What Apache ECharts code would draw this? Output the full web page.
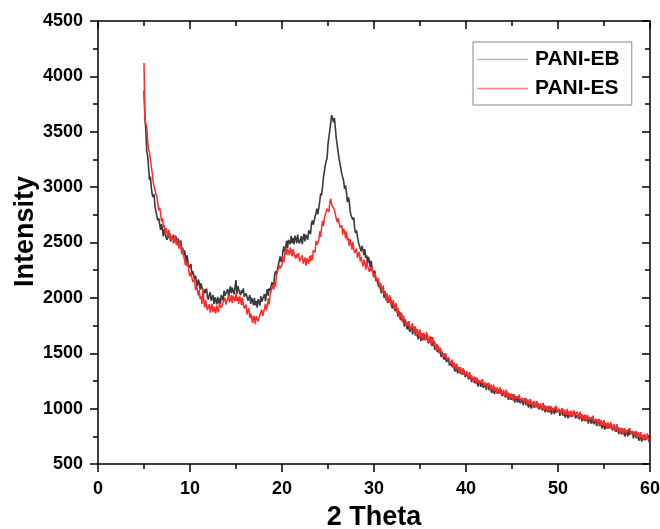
<!DOCTYPE html>
<html>
<head>
<meta charset="utf-8">
<script src="https://cdn.jsdelivr.net/npm/echarts@6/dist/echarts.min.js"></script>
<style>
html,body{margin:0;padding:0;background:#fff;}
#chart{width:660px;height:529px;}
</style>
</head>
<body>
<div id="chart"></div>
<script>
// 2θ sampling of both scans (degrees)
const thetaStart = 5.0;
const thetaStep = 0.1;

const seriesNames = ['PANI-EB', 'PANI-ES'];

// PANI-EB intensity, 5.0° … 60.0° every 0.1°
const paniEB = [
3870,3625,3515,3325,3280,3175,3065,3095,2990,2930,
2910,2935,2820,2830,2835,2700,2720,2665,2615,2665,
2620,2555,2620,2620,2550,2525,2565,2540,2585,2510,
2495,2550,2570,2500,2515,2555,2475,2535,2505,2460,
2520,2435,2455,2375,2430,2385,2325,2385,2310,2270,
2270,2305,2210,2240,2255,2170,2200,2145,2105,2165,
2140,2075,2130,2130,2060,2035,2075,2045,2085,2005,
1985,2030,2050,1975,1990,2025,1945,2005,1980,1940,
2010,1950,1995,1945,2025,2005,1975,2065,2020,2005,
2020,2080,2010,2065,2105,2040,2092,2060,2033,2105,
2160,2033,2105,2110,2045,2025,2070,2045,2085,2010,
1995,2040,2055,1975,1990,2025,1945,2000,1975,1935,
2000,1933,1971,1911,1988,1965,1930,2015,1965,1955,
1970,2035,1970,2030,2080,2020,2085,2065,2055,2140,
2140,2105,2210,2240,2210,2215,2295,2295,2375,2325,
2345,2420,2465,2415,2455,2515,2450,2525,2515,2485,
2560,2497,2540,2482,2560,2535,2493,2571,2514,2492,
2500,2557,2485,2540,2580,2510,2570,2545,2525,2610,
2610,2575,2670,2700,2660,2665,2735,2735,2805,2755,
2765,2870,2945,2925,2995,3085,3070,3195,3235,3260,
3390,3405,3515,3525,3650,3655,3585,3625,3530,3440,
3380,3385,3260,3260,3245,3120,3130,3055,2985,3015,
2960,2865,2910,2880,2790,2745,2755,2705,2725,2625,
2585,2610,2605,2505,2495,2515,2420,2470,2435,2385,
2440,2360,2385,2310,2370,2335,2275,2335,2260,2220,
2210,2245,2150,2180,2195,2100,2135,2085,2040,2095,
2070,2000,2060,2055,1980,1955,1995,1965,2005,1925,
1905,1950,1965,1880,1885,1915,1830,1880,1845,1800,
1860,1785,1810,1740,1805,1765,1715,1785,1720,1695,
1700,1750,1670,1710,1740,1660,1705,1665,1625,1690,
1670,1610,1680,1685,1620,1605,1650,1625,1670,1590,
1575,1625,1645,1565,1580,1615,1530,1585,1555,1510,
1562,1500,1522,1464,1514,1484,1442,1496,1442,1421,
1424,1458,1388,1418,1436,1376,1406,1368,1334,1385,
1368,1319,1374,1372,1319,1302,1332,1311,1346,1285,
1272,1311,1326,1265,1276,1303,1238,1285,1264,1231,
1282,1225,1252,1199,1254,1232,1197,1256,1207,1188,
1194,1233,1168,1204,1228,1166,1201,1168,1140,1192,
1178,1130,1186,1190,1138,1122,1158,1138,1174,1114,
1102,1143,1160,1101,1114,1143,1080,1129,1110,1079,
1132,1077,1106,1055,1112,1089,1054,1115,1068,1049,
1054,1095,1032,1069,1094,1031,1068,1037,1010,1063,
1048,1001,1058,1063,1012,997,1034,1015,1052,993,
982,1024,1042,984,998,1028,966,1016,998,968,
1022,968,998,948,1006,984,950,1012,966,948,
954,996,934,972,998,936,974,944,918,972,
958,912,970,976,926,912,950,932,970,912,
902,944,962,904,918,948,886,936,918,888,
942,887,916,865,922,899,864,925,878,859,
864,905,842,879,904,841,878,847,820,873,
858,811,868,873,822,807,844,825,862,803,
792,833,850,791,804,833,770,819,800,769,
822,768,798,748,806,784,750,812,766,748,
754,795,732,769,794,731,768,737,710,763,
748,702,760,766,716,702,740,722,760,702,
690
];

// PANI-ES intensity, 5.0° … 60.0° every 0.1°
const paniES = [
4120,3605,3610,3540,3420,3335,3315,3245,3245,3125,
3045,3060,3045,2935,2915,2905,2790,2815,2765,2690,
2720,2635,2655,2575,2630,2595,2545,2615,2550,2520,
2520,2570,2490,2535,2565,2480,2525,2485,2445,2505,
2470,2395,2440,2430,2340,2295,2325,2285,2315,2225,
2195,2230,2235,2145,2145,2165,2070,2115,2075,2020,
2070,1990,2015,1945,2085,1965,1915,1985,1920,1890,
1890,1943,1866,1914,1947,1870,1920,1887,1859,1931,
1920,1870,1950,1965,1910,1905,1960,1945,2000,1940,
1935,1995,2025,1960,1980,2025,1952,2020,2003,1970,
2040,1973,2010,1945,2015,1985,1935,2005,1940,1905,
1900,1940,1850,1885,1905,1820,1860,1815,1775,1840,
1820,1763,1836,1846,1788,1785,1845,1835,1895,1835,
1835,1905,1945,1890,1925,1995,1940,2025,2035,2025,
2120,2075,2140,2105,2205,2205,2190,2295,2265,2270,
2300,2375,2320,2390,2445,2390,2445,2415,2385,2455,
2440,2375,2440,2440,2375,2355,2395,2365,2405,2330,
2315,2365,2385,2310,2325,2365,2290,2357,2340,2308,
2380,2330,2385,2340,2430,2425,2410,2515,2480,2485,
2520,2600,2550,2630,2695,2650,2720,2715,2715,2805,
2810,2775,2870,2895,2840,2825,2855,2795,2805,2715,
2685,2720,2725,2635,2635,2655,2570,2625,2595,2540,
2600,2520,2545,2470,2530,2485,2435,2505,2440,2405,
2400,2445,2360,2395,2415,2330,2370,2325,2285,2345,
2320,2255,2320,2325,2260,2235,2275,2245,2285,2205,
2185,2225,2235,2150,2155,2175,2085,2135,2100,2050,
2110,2030,2055,1980,2040,2005,1955,2025,1960,1930,
1935,1980,1895,1930,1950,1865,1905,1855,1810,1870,
1845,1780,1840,1840,1770,1740,1780,1750,1790,1715,
1700,1750,1770,1690,1705,1740,1660,1720,1690,1650,
1715,1645,1680,1615,1685,1660,1615,1690,1630,1600,
1605,1655,1575,1615,1645,1565,1605,1560,1520,1580,
1553,1499,1549,1547,1489,1467,1497,1471,1501,1440,
1427,1461,1471,1405,1411,1443,1373,1415,1389,1356,
1407,1350,1377,1319,1374,1349,1307,1366,1317,1296,
1299,1338,1273,1308,1331,1266,1301,1268,1239,1290,
1273,1224,1279,1282,1229,1215,1252,1231,1266,1207,
1197,1236,1251,1191,1203,1233,1168,1215,1195,1163,
1217,1161,1189,1137,1193,1169,1133,1193,1145,1125,
1129,1170,1107,1144,1169,1106,1143,1112,1085,1138,
1123,1076,1133,1138,1087,1072,1109,1090,1127,1068,
1057,1098,1115,1056,1069,1098,1035,1084,1065,1034,
1087,1032,1061,1010,1067,1044,1009,1070,1023,1004,
1009,1051,989,1027,1053,991,1029,999,973,1027,
1013,967,1025,1031,981,967,1005,987,1025,967,
957,999,1017,959,973,1003,941,991,973,943,
997,943,973,923,981,959,925,987,941,923,
929,971,909,947,973,911,949,919,893,947,
933,886,943,948,897,882,919,900,937,878,
867,908,925,866,879,908,845,894,875,844,
897,842,871,820,877,854,819,880,833,814,
819,860,797,834,859,796,833,802,775,828,
813,767,825,831,781,767,805,787,825,767,
757,798,815,756,769,798,735,784,765,734,
787,733,763,713,771,749,715,777,731,713,
730
];

const xTicks = {min: 0, max: 60, interval: 10};
const yTicks = {min: 500, max: 4500, interval: 500};

function toPairs(vals) {
  return vals.map((v, i) => [+(thetaStart + i * thetaStep).toFixed(2), v]);
}

const FONT = 'Liberation Sans, Arial, sans-serif';
const axisLineStyle = {color: '#000', width: 1.5};
const tickStyle = {color: '#000', width: 1.5};

function makeX(pos, showLabel, inside) {
  return {
    type: 'value', position: pos,
    min: xTicks.min, max: xTicks.max, interval: xTicks.interval,
    name: showLabel ? '2 Theta' : '',
    nameLocation: 'middle', nameGap: 40, nameMoveOverlap: false,
    nameTextStyle: {fontFamily: FONT, fontWeight: 'bold', fontSize: 27, color: '#000'},
    axisLine: {show: true, onZero: false, lineStyle: axisLineStyle},
    axisTick: {show: true, inside: inside, length: 8, lineStyle: tickStyle},
    minorTick: {show: true, splitNumber: 2, length: 5, lineStyle: tickStyle},
    axisLabel: {show: showLabel, fontFamily: FONT, fontWeight: 'bold', fontSize: 18, color: '#000', margin: 16,
                formatter: v => String(v)},
    splitLine: {show: false}, minorSplitLine: {show: false}
  };
}
function makeY(pos, showLabel, inside) {
  return {
    type: 'value', position: pos,
    min: yTicks.min, max: yTicks.max, interval: yTicks.interval,
    name: showLabel ? 'Intensity' : '',
    nameLocation: 'middle', nameGap: 59, nameMoveOverlap: false,
    nameTextStyle: {fontFamily: FONT, fontWeight: 'bold', fontSize: 27, color: '#000', padding: [0, 0, 0, 22]},
    axisLine: {show: true, onZero: false, lineStyle: axisLineStyle},
    axisTick: {show: true, inside: inside, length: 8, lineStyle: tickStyle},
    minorTick: {show: true, splitNumber: 2, length: 5, lineStyle: tickStyle},
    axisLabel: {show: showLabel, fontFamily: FONT, fontWeight: 'bold', fontSize: 18, color: '#000', margin: 15,
                formatter: v => String(v)},
    splitLine: {show: false}, minorSplitLine: {show: false}
  };
}

const chart = echarts.init(document.getElementById('chart'), null, {renderer: 'canvas'});
chart.setOption({
  backgroundColor: '#fff',
  animation: false,
  grid: {left: 98, right: 10, top: 21, bottom: 65, outerBoundsMode: 'none', containLabel: false},
  legend: {
    data: [
      {name: seriesNames[0], icon: 'rect', itemStyle: {color: '#b8b8b8'}},
      {name: seriesNames[1], icon: 'rect', itemStyle: {color: '#ff8080'}}
    ],
    orient: 'vertical',
    left: 473, top: 42,
    itemWidth: 51, itemHeight: 1.5, itemGap: 8,
    padding: [7, 12, 6, 4],
    borderColor: '#888', borderWidth: 1,
    textStyle: {fontFamily: FONT, fontWeight: 'bold', fontSize: 21, lineHeight: 21, color: '#000', padding: [0, 0, 0, 2]}
  },
  xAxis: [makeX('bottom', true, false), makeX('top', false, true)],
  yAxis: [makeY('left', true, false), makeY('right', false, true)],
  series: [
    {
      name: seriesNames[0], type: 'line', xAxisIndex: 0, yAxisIndex: 0,
      data: toPairs(paniEB), symbol: 'none', smooth: false,
      lineStyle: {color: '#3a3a3a', width: 1.6},
      itemStyle: {color: '#3a3a3a'}
    },
    {
      name: seriesNames[1], type: 'line', xAxisIndex: 0, yAxisIndex: 0,
      data: toPairs(paniES), symbol: 'none', smooth: false,
      lineStyle: {color: '#ff2a2a', width: 1.5},
      itemStyle: {color: '#ff2a2a'}
    }
  ]
});
</script>
</body>
</html>
